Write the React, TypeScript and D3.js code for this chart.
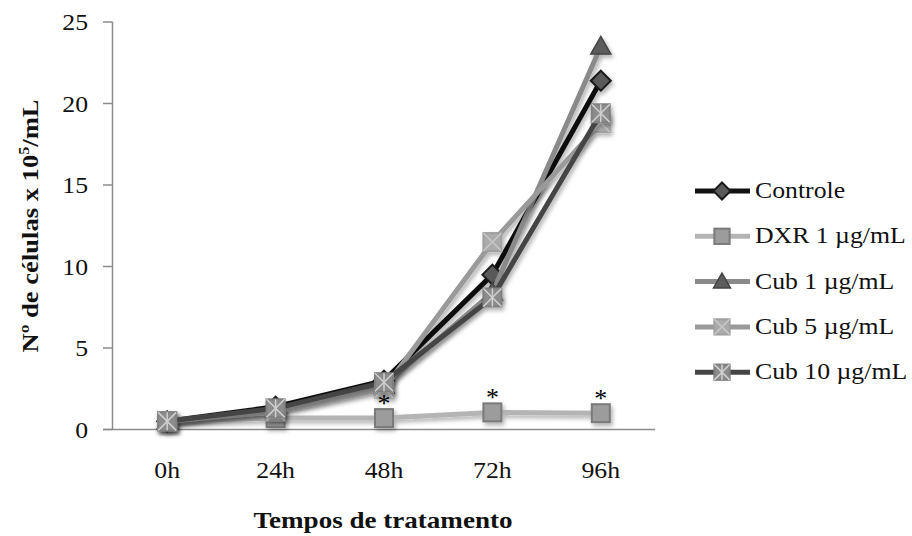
import React from 'react';
import * as d3 from 'd3';

const categories = ['0h', '24h', '48h', '72h', '96h'];
const controle = [0.5, 1.4, 3.0, 9.5, 21.4];
const dxr = [0.5, 0.7, 0.7, 1.05, 1.0];
const cub1 = [0.5, 1.2, 2.7, 8.4, 23.5];
const cub5 = [0.5, 1.1, 2.5, 11.5, 18.8];
const cub10 = [0.5, 1.3, 2.9, 8.1, 19.4];
const significant = [false, false, true, true, true];
const yTicks = [0, 5, 10, 15, 20, 25];
const seriesNames = ['Controle', 'DXR 1 µg/mL', 'Cub 1 µg/mL', 'Cub 5 µg/mL', 'Cub 10 µg/mL'];

const FONT = '"Liberation Serif", "Times New Roman", serif';
const SX = 1.12; // the source picture is a little stretched horizontally

type Style = { line: string; fill: string; stroke: string; mark: string; cross: string };

const styles: Style[] = [
  { line: '#111', fill: '#5a5a5a', stroke: '#1a1a1a', mark: 'diamond', cross: '' },
  { line: '#b4b4b4', fill: '#9c9c9c', stroke: '#7a7a7a', mark: 'square', cross: '' },
  { line: '#8a8a8a', fill: '#5c5c5c', stroke: '#444', mark: 'triangle', cross: '' },
  { line: '#9a9a9a', fill: '#ababab', stroke: '#a0a0a0', mark: 'x', cross: '#c8c8c8' },
  { line: '#454545', fill: '#8c8c8c', stroke: '#808080', mark: 'star', cross: '#d0d0d0' },
];

const Marker = ({ x, y, s, k = 1 }: { x: number; y: number; s: Style; k?: number }) => {
  const h = 9 * k;
  if (s.mark === 'diamond') {
    const d = 10 * k;
    return <path d={`M${x},${y - d}L${x + d},${y}L${x},${y + d}L${x - d},${y}Z`} fill={s.fill} stroke={s.stroke} strokeWidth={2} />;
  }
  if (s.mark === 'triangle') {
    const t = 10 * k;
    return <path d={`M${x},${y - t}L${x + t},${y + t * 0.75}L${x - t},${y + t * 0.75}Z`} fill={s.fill} stroke={s.stroke} strokeWidth={1.5} />;
  }
  return (
    <g>
      <rect x={x - h} y={y - h} width={2 * h} height={2 * h} fill={s.fill} stroke={s.stroke} strokeWidth={2} />
      {(s.mark === 'x' || s.mark === 'star') && (
        <path d={`M${x - h},${y - h}L${x + h},${y + h}M${x + h},${y - h}L${x - h},${y + h}`} stroke={s.cross} strokeWidth={1.5} />
      )}
      {s.mark === 'star' && <path d={`M${x},${y - h}V${y + h}`} stroke={s.cross} strokeWidth={1.5} />}
    </g>
  );
};

export default function App() {
  const data = [controle, dxr, cub1, cub5, cub10];
  const x = d3.scaleBand<string>().domain(categories).range([113, 655]);
  const cx = (c: string) => (x(c) ?? 0) + x.bandwidth() / 2;
  const y = d3.scaleLinear().domain([0, 25]).range([429.5, 22]);
  const line = d3
    .line<number>()
    .x((_, i) => cx(categories[i]))
    .y((d) => y(d));

  return (
    <svg width={912} height={536} style={{ position: 'absolute', left: 0, top: 0, background: '#fff', fontFamily: FONT }}>
      <defs>
        <filter id="sh" x="-20%" y="-20%" width="140%" height="140%">
          <feDropShadow dx={2} dy={3} stdDeviation={2} floodColor="#000" floodOpacity={0.3} />
        </filter>
      </defs>

      {/* axes */}
      <line x1={112.5} x2={112.5} y1={y(25)} y2={y(0)} stroke="#8c8c8c" strokeWidth={1.5} />
      <line x1={103} x2={655} y1={y(0)} y2={y(0)} stroke="#8c8c8c" strokeWidth={1.5} />
      {yTicks.map((t) => (
        <g key={t}>
          <line x1={103} x2={112.5} y1={y(t)} y2={y(t)} stroke="#8c8c8c" strokeWidth={1.5} />
          <g transform={`translate(88,${y(t) + 8}) scale(${SX},1)`}>
            <text textAnchor="end" fontSize={23} fill="#111">{t}</text>
          </g>
        </g>
      ))}
      {categories.map((c) => (
        <g key={c} transform={`translate(${cx(c)},478) scale(${SX},1)`}>
          <text textAnchor="middle" fontSize={23} fill="#111">{c}</text>
        </g>
      ))}

      {/* series */}
      {data.map((vals, si) => (
        <g key={si} filter="url(#sh)">
          <path d={line(vals) ?? ''} fill="none" stroke={styles[si].line} strokeWidth={5} strokeLinejoin="round" />
          {vals.map((v, i) => (
            <Marker key={i} x={cx(categories[i])} y={y(v)} s={styles[si]} />
          ))}
        </g>
      ))}

      {/* significance marks */}
      {dxr.map((v, i) =>
        significant[i] ? (
          <text key={i} x={cx(categories[i])} y={y(v) - 6} textAnchor="middle" fontSize={26} fill="#000">*</text>
        ) : null
      )}

      {/* titles */}
      <text x={383} y={528} textAnchor="middle" fontSize={23} fontWeight="bold" textLength={259} lengthAdjust="spacingAndGlyphs" fill="#111">
        Tempos de tratamento
      </text>
      <text transform="translate(38,226) rotate(-90)" textAnchor="middle" fontSize={23} fontWeight="bold" textLength={253} lengthAdjust="spacingAndGlyphs" fill="#111">
        Nº de células x 10<tspan fontSize={14} dy={-9}>5</tspan><tspan dy={9}>/mL</tspan>
      </text>

      {/* legend */}
      {seriesNames.map((n, i) => {
        const ly = 191 + i * 45.3;
        return (
          <g key={n}>
            <line x1={695} x2={750} y1={ly} y2={ly} stroke={styles[i].line} strokeWidth={5} />
            <Marker x={722} y={ly} s={styles[i]} k={0.85} />
            <g transform={`translate(755,${ly + 7}) scale(${SX},1)`}>
              <text fontSize={23} fill="#111">{n}</text>
            </g>
          </g>
        );
      })}
    </svg>
  );
}
